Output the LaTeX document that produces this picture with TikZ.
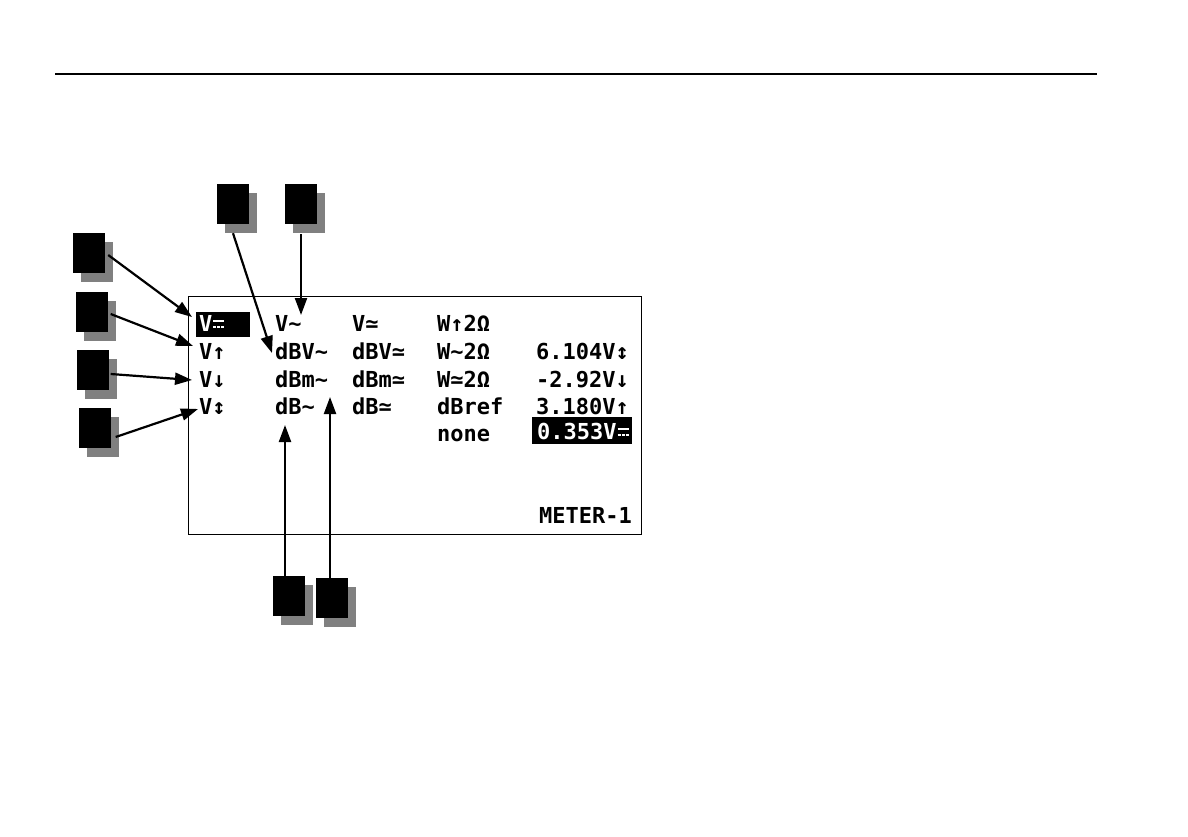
\documentclass[tikz,border=0pt]{standalone}
\usepackage{fontspec}
\newfontfamily\lcdfont{DejaVu Sans Mono}
% DC sign (solid bar over dashes), no installed family has it
\newcommand{\dcsym}{\makebox[13.2pt][l]{\hspace{1pt}\rlap{\rule[9pt]{11pt}{2.4pt}}%
  \rule[3pt]{3pt}{2.4pt}\hspace{1pt}\rule[3pt]{3pt}{2.4pt}\hspace{1pt}\rule[3pt]{3pt}{2.4pt}}}
\usetikzlibrary{arrows.meta,positioning,shadows,calc}

\begin{document}
\begin{tikzpicture}[
  x=1pt, y=-1pt,
  lbl/.style={fill=black, minimum width=32pt, minimum height=40pt, inner sep=0pt,
    drop shadow={shadow xshift=8pt, shadow yshift=-9pt, fill=black!50, opacity=1}},
  txt/.style={anchor=base west, inner sep=0pt, font=\lcdfont\bfseries\fontsize{22}{22}\selectfont},
  txtr/.style={txt, anchor=base east},
  arr/.style={-{Triangle[length=17pt, width=12pt]}, line width=2.2pt}
]
  \useasboundingbox (0,0) rectangle (1188,837);

  % page rule and meter screen
  \draw[line width=2pt] (55,74) -- (1097,74);
  \node[draw, line width=1.2pt, minimum width=453pt, minimum height=238pt, inner sep=0pt, anchor=north west] (scr) at (188,296) {};

  % inverted fields
  \fill (196,312) rectangle (250,337);
  \fill (532,417) rectangle (632,444);

  % menu columns
  \node[txt, text=white] (vdc) at (199,331) {V\dcsym};
  \node[txt] (vpmax) at (199,359) {V↑};
  \node[txt] (vpmin) at (199,387) {V↓};
  \node[txt] (vpp) at (199,414) {V↕};

  \node[txt] (vac) at (275,331) {V∼};
  \node[txt] (dbvac) at (275,359) {dBV∼};
  \node[txt] (dbmac) at (275,387) {dBm∼};
  \node[txt] (dbac) at (275,414) {dB∼};

  \node[txt] (vacdc) at (352,331) {V≃};
  \node[txt] (dbvacdc) at (352,359) {dBV≃};
  \node[txt] (dbmacdc) at (352,387) {dBm≃};
  \node[txt] (dbacdc) at (352,414) {dB≃};

  \node[txt] (wpk) at (437,331) {W↑2Ω};
  \node[txt] (wac) at (437,359) {W∼2Ω};
  \node[txt] (wacdc) at (437,387) {W≃2Ω};
  \node[txt] (dbref) at (437,414) {dBref};
  \node[txt] (none) at (437,441) {none};

  % readings
  \node[txtr] (rd1) at (629,359) {6.104V↕};
  \node[txtr] (rd2) at (629,387) {-2.92V↓};
  \node[txtr] (rd3) at (629,414) {3.180V↑};
  \node[txtr, text=white] (rd4) at (630,439) {0.353V\dcsym};
  \node[txtr] (mtr) at (632,523) {METER-1};

  % callout boxes
  \node[lbl] (b1) at (89,253) {};
  \node[lbl] (b2) at (91.5,312) {};
  \node[lbl] (b3) at (92.5,370) {};
  \node[lbl] (b4) at (94.5,428) {};
  \node[lbl] (bA) at (232.5,204) {};
  \node[lbl] (bB) at (300.5,204) {};
  \node[lbl] (bC) at (289,596) {};
  \node[lbl] (bD) at (331.5,598) {};

  % arrow tips
  \coordinate (t1) at (192,317);
  \coordinate (t2) at (193,346);
  \coordinate (t3) at (192,380);
  \coordinate (t4) at (198,409);
  \coordinate (tA) at (272,353);
  \coordinate (tB) at (301,315);
  \coordinate (tC) at (285,425);
  \coordinate (tD) at (330,397);

  \draw[arr] ($(b1.east)+(3,2)$) -- (t1);
  \draw[arr] ($(b2.east)+(3,2)$) -- (t2);
  \draw[arr] ($(b3.east)+(2,4)$) -- (t3);
  \draw[arr] ($(b4.east)+(5,9)$) -- (t4);
  \draw[arr] ($(bA.south)+(0.5,9)$) -- (tA);
  \draw[arr] ($(bB.south)+(0.5,10)$) -- (tB);
  \draw[arr] ($(bC.north)+(-4,0)$) -- (tC);
  \draw[arr] ($(bD.north)+(-1.5,0)$) -- (tD);
\end{tikzpicture}
\end{document}
